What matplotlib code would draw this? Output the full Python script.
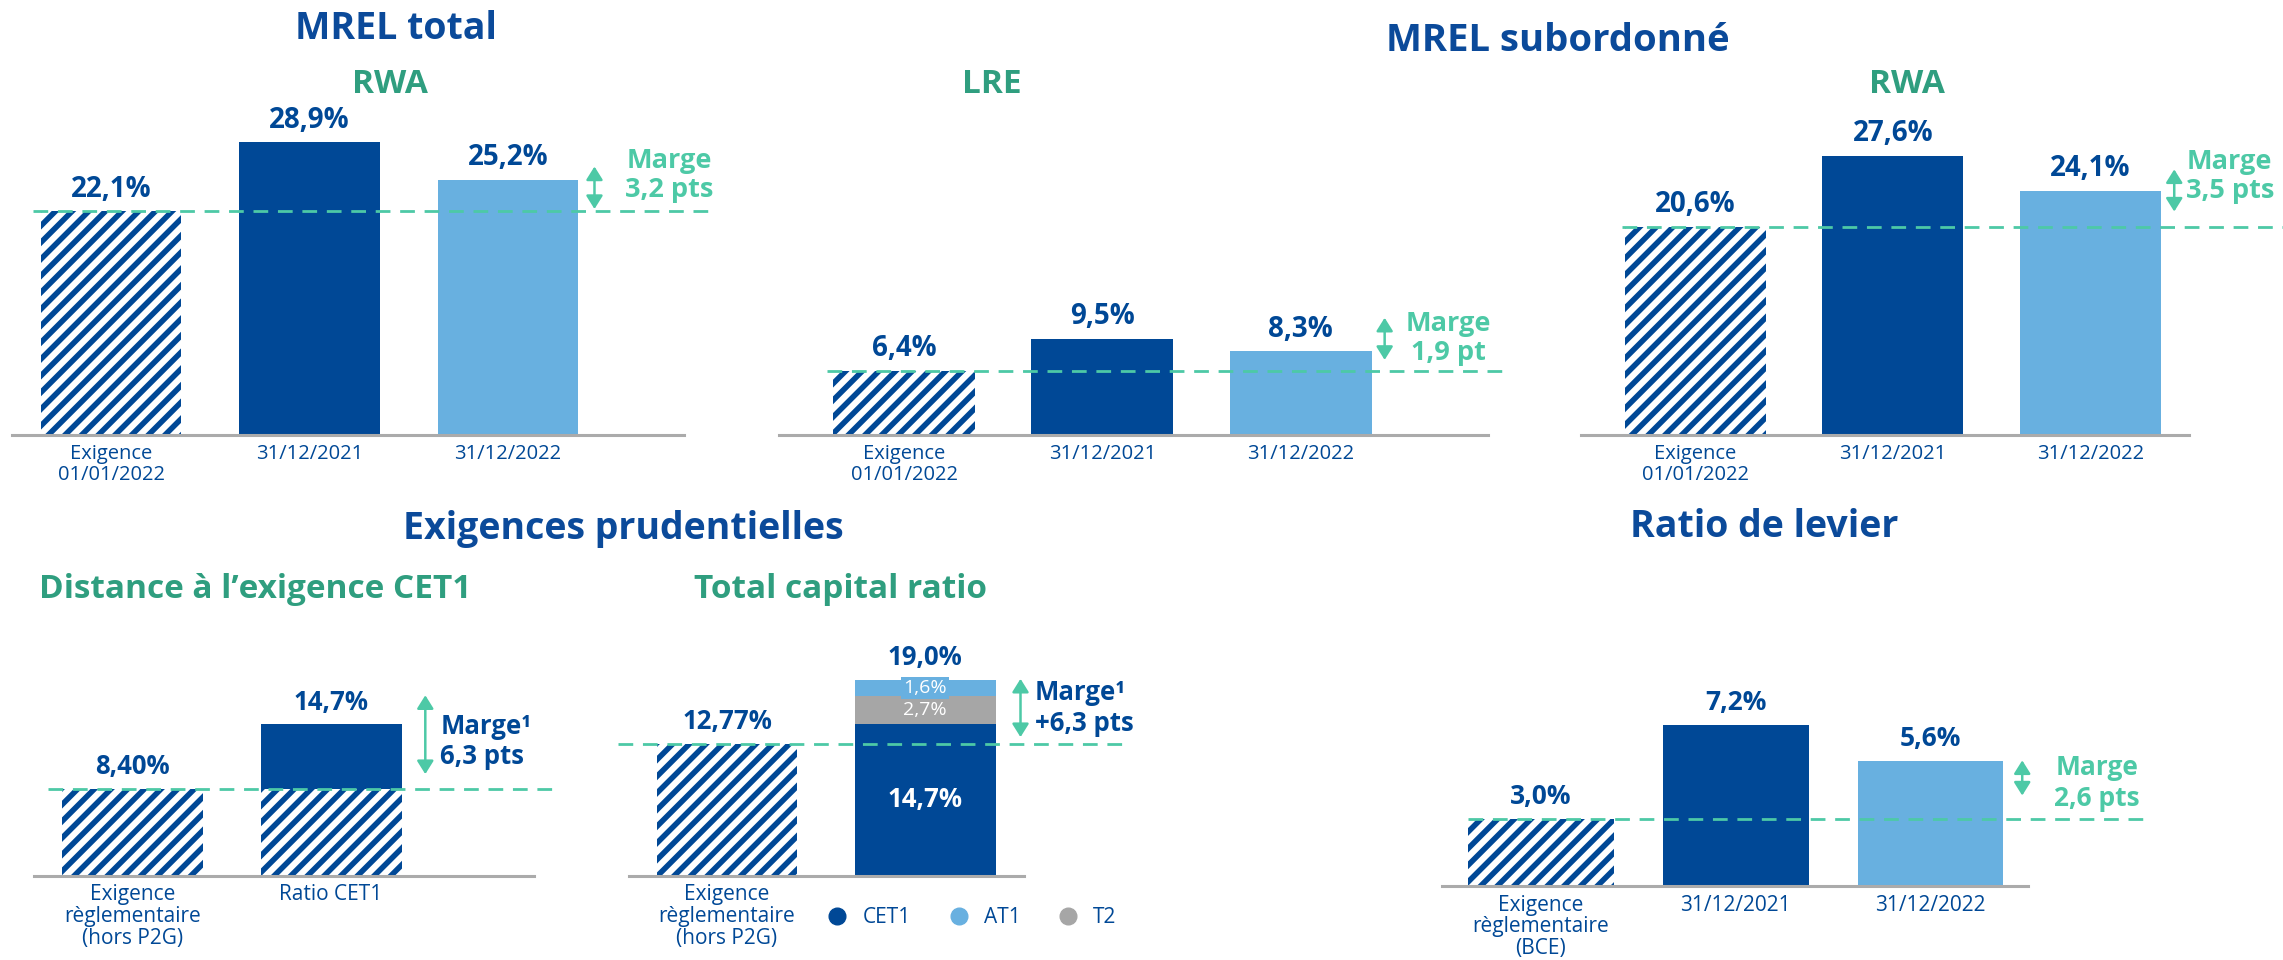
import matplotlib.pyplot as plt
from matplotlib.lines import Line2D

# ---- data -------------------------------------------------------------
mrel_categories = ["Exigence\n01/01/2022", "31/12/2021", "31/12/2022"]
mrel_total_rwa = [22.1, 28.9, 25.2]
mrel_sub_lre = [6.4, 9.5, 8.3]
mrel_sub_rwa = [20.6, 27.6, 24.1]
mrel_margins = ["3,2 pts", "1,9 pt", "3,5 pts"]

cet1_categories = ["Exigence\nrèglementaire\n(hors P2G)", "Ratio CET1"]
cet1_requirement = 8.40
cet1_ratio = 14.7
cet1_margin = "6,3 pts"

tcr_categories = ["Exigence\nrèglementaire\n(hors P2G)", ""]
tcr_requirement = 12.77
tcr_components = ["CET1", "AT1", "T2"]
tcr_cet1 = 14.7
tcr_at1 = 1.6
tcr_t2 = 2.7
tcr_total = 19.0
tcr_margin = "+6,3 pts"

leverage_categories = ["Exigence\nrèglementaire\n(BCE)", "31/12/2021", "31/12/2022"]
leverage_values = [3.0, 7.2, 5.6]
leverage_margin = "2,6 pts"

# ---- style ------------------------------------------------------------
plt.rcParams['font.family'] = ['Open Sans', 'DejaVu Sans']
plt.rcParams['hatch.linewidth'] = 4.0

NAVY = '#0B4A9A'
DARK = '#004896'
LIGHT = '#68B0E0'
GREY = '#A6A6A6'
MINT = '#4DC9A6'
GREEN = '#2F9E7F'
AXIS = '#ABABAB'

W, H = 1568, 659  # layout grid (reference pixels)
fig = plt.figure(figsize=(22.83, 9.6), dpi=100)


def pct(v, nd=1):
    return f"{v:.{nd}f}".replace('.', ',') + '%'


def panel(left, right, base, ppp, c0, step, labels, lsize):
    ax = fig.add_axes([left / W, 1 - base / H, (right - left) / W, (base - 5) / H])
    ax.set_xlim((left - c0) / step, (right - c0) / step)
    ax.set_ylim(0, (base - 5) / ppp)
    ax.patch.set_visible(False)
    for s in ['top', 'right', 'left']:
        ax.spines[s].set_visible(False)
    ax.spines['bottom'].set_color(AXIS)
    ax.spines['bottom'].set_linewidth(2.2)
    ax.set_yticks([])
    ax.set_xticks(range(len(labels)), labels)
    ax.tick_params(axis='x', length=0, pad=6, labelsize=lsize, labelcolor=DARK)
    for t in ax.get_xticklabels():
        t.set_linespacing(1.05)
    tox = lambda x: (x - c0) / step
    return ax, tox, ppp


def value_label(ax, x, v, text, size=18.5):
    ax.annotate(text, (x, v), xytext=(0, 16), textcoords='offset points',
                ha='center', va='center', fontsize=size, fontweight='bold',
                color=DARK, annotation_clip=False)


def req_line(ax, v, x0, x1):
    ax.plot([x0, x1], [v, v], color=MINT, lw=2, ls=(0, (5.3, 3.5)),
            clip_on=False, zorder=5)


def marge(ax, x, lo, hi, text, color, dx, dy, ha, size=18.5):
    ax.annotate('', xy=(x, hi), xytext=(x, lo),
                arrowprops=dict(arrowstyle='<|-|>,head_length=0.4,head_width=0.25',
                                color=MINT, lw=1.8, shrinkA=0, shrinkB=0,
                                mutation_scale=20),
                annotation_clip=False)
    ax.annotate(text, (x, (lo + hi) / 2), xytext=(dx, dy), textcoords='offset points',
                ha=ha, va='center', fontsize=size, fontweight='bold', color=color,
                linespacing=1.15, annotation_clip=False)


def three_bars(ax, vals, width, size):
    ax.bar(0, vals[0], width=width, color='white', edgecolor=DARK, hatch='//', lw=0)
    ax.bar(1, vals[1], width=width, color=DARK, lw=0)
    ax.bar(2, vals[2], width=width, color=LIGHT, lw=0)
    for i, v in enumerate(vals):
        value_label(ax, i, v, pct(v), size)


# ---- titles -----------------------------------------------------------
def ftext(x, y, s, size, color):
    fig.text(x / W, 1 - y / H, s, ha='center', va='center', fontsize=size,
             fontweight='bold', color=color)


ftext(272, 20, "MREL total", 27, NAVY)
ftext(1070, 28, "MREL subordonné", 27.5, NAVY)
ftext(428, 363, "Exigences prudentielles", 27, NAVY)
ftext(1212, 362, "Ratio de levier", 27, NAVY)
ftext(268, 58, "RWA", 24, GREEN)
ftext(681, 58, "LRE", 24, GREEN)
ftext(1310, 58, "RWA", 24, GREEN)
ftext(175, 405, "Distance à l’exigence CET1", 24, GREEN)
ftext(577, 405, "Total capital ratio", 24, GREEN)

# ---- MREL total RWA ---------------------------------------------------
ax, tox, ppp = panel(8.3, 470, 298.9, 6.96, 76.3, 136.3, mrel_categories, 14.5)
three_bars(ax, mrel_total_rwa, 0.708, 20)
req_line(ax, mrel_total_rwa[0], tox(23), tox(492))
lo, hi = mrel_total_rwa[0] + 1.6 / ppp, mrel_total_rwa[2] + 9.2 / ppp
marge(ax, tox(408.3), lo, hi, "Marge\n" + mrel_margins[0], MINT, 54, 8.5, 'center', 19.5)

# ---- MREL subordonné LRE ----------------------------------------------
ax, tox, ppp = panel(534.7, 1022, 298.9, 6.96, 620.9, 136.2, mrel_categories, 14.5)
three_bars(ax, mrel_sub_lre, 0.715, 20)
req_line(ax, mrel_sub_lre[0], tox(568), tox(1037))
lo, hi = mrel_sub_lre[0] + 7.3 / ppp, mrel_sub_lre[2] + 23 / ppp
marge(ax, tox(951), lo, hi, "Marge\n" + mrel_margins[1], MINT, 46, 0.5, 'center', 19.5)

# ---- MREL subordonné RWA ----------------------------------------------
ax, tox, ppp = panel(1085.7, 1503.3, 298.9, 6.96, 1164.3, 135.7, mrel_categories, 14.5)
three_bars(ax, mrel_sub_rwa, 0.715, 20)
req_line(ax, mrel_sub_rwa[0], tox(1114), tox(1570))
lo, hi = mrel_sub_rwa[0] + 10.3 / ppp, mrel_sub_rwa[2] + 14.9 / ppp
marge(ax, tox(1493.3), lo, hi, "Marge\n" + mrel_margins[2], MINT, 40, 10, 'center', 19.5)

# ---- Distance à l'exigence CET1 ---------------------------------------
ax, tox, ppp = panel(23.4, 367, 601.1, 7.07, 90.9, 136.5, cet1_categories, 15)
w = 0.71
ax.bar([0, 1], [cet1_requirement, cet1_requirement], width=w, color='white',
       edgecolor=DARK, hatch='//', lw=0)
ax.bar(1, cet1_ratio - cet1_requirement, bottom=cet1_requirement, width=w, color=DARK, lw=0)
value_label(ax, 0, cet1_requirement, pct(cet1_requirement, 2))
value_label(ax, 1, cet1_ratio, pct(cet1_ratio))
req_line(ax, cet1_requirement, tox(33), tox(381))
lo, hi = cet1_requirement + 10.3 / ppp, cet1_ratio + 19.9 / ppp
marge(ax, tox(292.1), lo, hi, "Marge¹\n" + cet1_margin, DARK, 10.7, -4.8, 'left')

# ---- Total capital ratio ----------------------------------------------
ax, tox, ppp = panel(432, 703, 601.1, 7.07, 499.3, 136.2, tcr_categories, 15)
ax.bar(0, tcr_requirement, width=w, color='white', edgecolor=DARK, hatch='//', lw=0)
ax.bar(1, tcr_cet1, width=w, color=DARK, lw=0)
ax.bar(1, tcr_t2, bottom=tcr_cet1, width=w, color=GREY, lw=0)
ax.bar(1, tcr_at1, bottom=tcr_cet1 + tcr_t2, width=w, color=LIGHT, lw=0)
value_label(ax, 0, tcr_requirement, pct(tcr_requirement, 2))
value_label(ax, 1, tcr_total, pct(tcr_total))
ax.text(1, tcr_cet1 / 2, pct(tcr_cet1), ha='center', va='center', fontsize=18.5,
        fontweight='bold', color='white')
ax.text(1, tcr_cet1 + tcr_t2 / 2, pct(tcr_t2), ha='center', va='center',
        fontsize=14, color='white')
ax.text(1, tcr_cet1 + tcr_t2 + tcr_at1 / 2, pct(tcr_at1), ha='center', va='center',
        fontsize=14, color='white',
        bbox=dict(facecolor=LIGHT, edgecolor='none', pad=1.5))
req_line(ax, tcr_requirement, tox(424.7), tox(771.9))
lo, hi = tcr_requirement + 4.8 / ppp, tcr_total + 0.8 / ppp
marge(ax, tox(700.9), lo, hi, "Marge¹\n" + tcr_margin, DARK, 10.4, 0, 'left')
handles = [Line2D([], [], ls='', marker='o', markersize=12, color=c)
           for c in [DARK, LIGHT, GREY]]
fig.legend(handles, tcr_components, loc='center left',
           bbox_to_anchor=(568 / W, 1 - 630 / H), ncol=3, frameon=False,
           fontsize=15, labelcolor=DARK, handlelength=1, handletextpad=0.7,
           columnspacing=1.8, borderpad=0, borderaxespad=0)

# ---- Ratio de levier --------------------------------------------------
ax, tox, ppp = panel(990.6, 1392.8, 608.4, 15.4, 1058.2, 133.9, leverage_categories, 15)
three_bars(ax, leverage_values, 0.747, 19)
req_line(ax, leverage_values[0], tox(1008.4), tox(1475.9))
lo, hi = leverage_values[0] + 16.1 / ppp, leverage_values[2] + 0.2 / ppp
marge(ax, tox(1388.9), lo, hi, "Marge\n" + leverage_margin, MINT, 54, -3.6, 'center', 19)

fig.savefig('out.png', dpi=100)
